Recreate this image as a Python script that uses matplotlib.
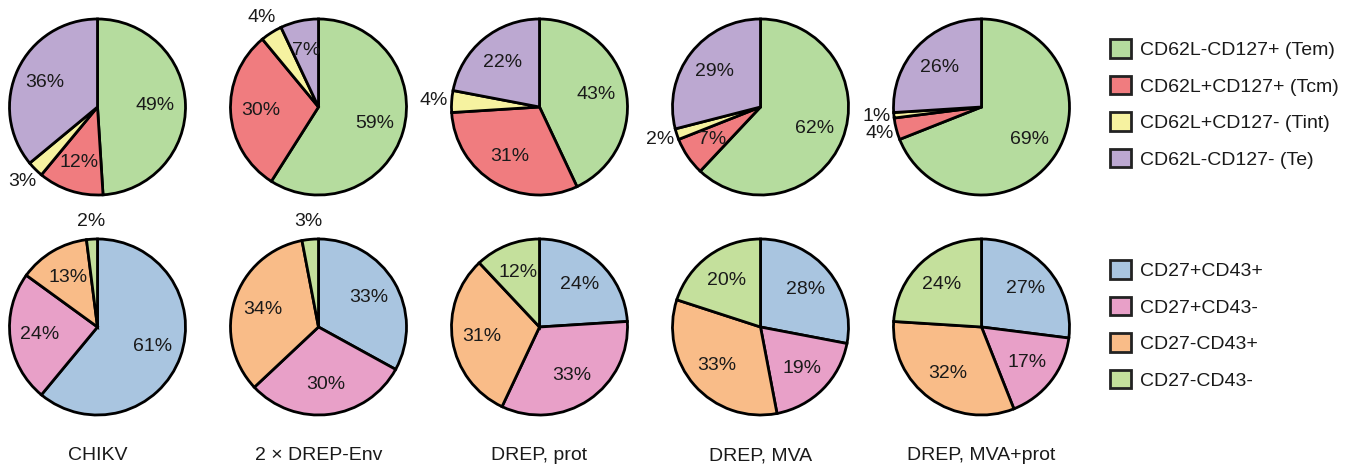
import matplotlib
matplotlib.use("Agg")
import matplotlib.pyplot as plt
from matplotlib.patches import Patch

plt.rcParams["font.family"] = ["Liberation Sans", "DejaVu Sans"]

groups = ["CHIKV", "2 \u00d7 DREP-Env", "DREP, prot", "DREP, MVA", "DREP, MVA+prot"]

memory_labels = ["CD62L-CD127+ (Tem)", "CD62L+CD127+ (Tcm)", "CD62L+CD127- (Tint)", "CD62L-CD127- (Te)"]
memory_colors = ["#b5dc9e", "#f07c7f", "#f6f2a0", "#bca8d1"]
memory_values = [
    [49, 12, 3, 36],
    [59, 30, 4, 7],
    [43, 31, 4, 22],
    [62, 7, 2, 29],
    [69, 4, 1, 26],
]

cd_labels = ["CD27+CD43+", "CD27+CD43-", "CD27-CD43+", "CD27-CD43-"]
cd_colors = ["#a9c5e0", "#e8a0c8", "#f9bc88", "#c4e09c"]
cd_values = [
    [61, 24, 13, 2],
    [33, 30, 34, 3],
    [24, 33, 31, 12],
    [28, 19, 33, 20],
    [27, 17, 32, 24],
]

W, H = 1356, 468
fig = plt.figure(figsize=(W / 100, H / 100), dpi=100)

R = 88
col_x = [97.5, 318.5, 539.5, 760.5, 981.5]
row_y = [107, 327]
FS = 14
SMALL = 5


def draw_pie(cx, cy, values, colors):
    ax = fig.add_axes([(cx - R) / W, 1 - (cy + R) / H, 2 * R / W, 2 * R / H])
    outer = [f"{v}%" if v < SMALL else "" for v in values]
    wedges, texts, autotexts = ax.pie(
        values,
        colors=colors,
        labels=outer,
        startangle=90,
        counterclock=False,
        autopct=lambda p: f"{p:.0f}%" if p >= SMALL else "",
        pctdistance=0.66,
        labeldistance=1.2,
        wedgeprops=dict(edgecolor="black", linewidth=2.0),
        textprops=dict(fontsize=FS, color="#1a1a1a"),
    )
    for t in texts:
        t.set_ha("center")
        t.set_va("center")
    ax.set_xlim(-1, 1)
    ax.set_ylim(-1, 1)
    ax.set_aspect("equal")
    ax.axis("off")
    return ax


for i in range(5):
    draw_pie(col_x[i], row_y[0], memory_values[i], memory_colors)
    draw_pie(col_x[i], row_y[1], cd_values[i], cd_colors)
    fig.text(col_x[i] / W, 1 - 456 / H, groups[i], ha="center", va="center",
             fontsize=14, color="#1a1a1a")


def add_legend(labels, colors, cy):
    handles = [Patch(facecolor=c, edgecolor="#222222", linewidth=2.0) for c in colors]
    fig.legend(handles, labels, loc="center left",
               bbox_to_anchor=(1110 / W, 1 - cy / H), frameon=False,
               fontsize=FS, handlelength=1.1, handleheight=1.1,
               handletextpad=0.45, labelspacing=0.85, borderpad=0, borderaxespad=0,
               labelcolor="#1a1a1a")


add_legend(memory_labels, memory_colors, 104)
add_legend(cd_labels, cd_colors, 325)

fig.savefig("out.png", dpi=100)
